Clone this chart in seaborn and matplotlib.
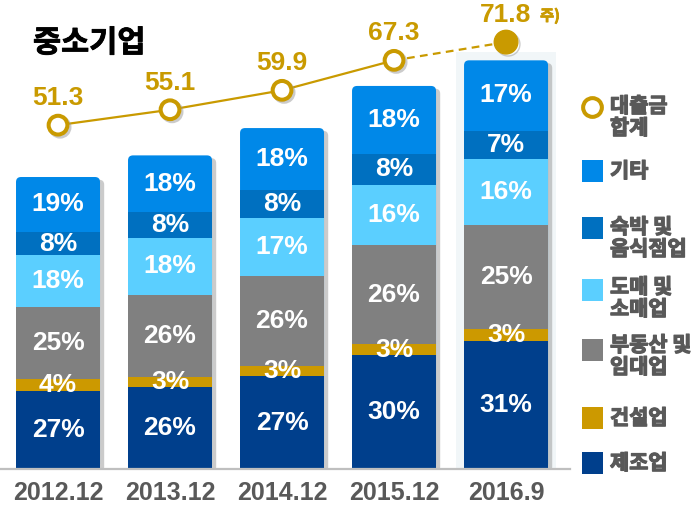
import numpy as np
import pandas as pd
import matplotlib
matplotlib.use("Agg")
import matplotlib.pyplot as plt
import matplotlib.patheffects as pe
from matplotlib.patches import FancyBboxPatch, Rectangle
import seaborn as sns

# ---- data -------------------------------------------------------------
periods = ["2012.12", "2013.12", "2014.12", "2015.12", "2016.9"]
loan_total = [51.3, 55.1, 59.9, 67.3, 71.8]          # 대출금 합계 (조원)
sectors = ["제조업", "건설업", "부동산 및\n임대업", "도매 및\n소매업", "숙박 및\n음식점업", "기타"]
manufacturing = [27, 26, 27, 30, 31]
construction = [4, 3, 3, 3, 3]
real_estate = [25, 26, 26, 26, 25]
wholesale_retail = [18, 18, 17, 16, 16]
lodging_food = [8, 8, 8, 8, 7]
other = [19, 18, 18, 18, 17]

colors = ["#003F8C", "#CC9900", "#808080", "#5BCFFF", "#0070C0", "#0088E8"]
line_color = "#C99A00"
text_gray = "#595959"

sns.set_style("white")
plt.rcParams["font.family"] = ["Liberation Sans", "Noto Sans CJK KR"]
KR = ["Noto Sans CJK KR", "Liberation Sans"]

# each bar is as tall as the loan total, split by sector share
shares = np.array([manufacturing, construction, real_estate,
                   wholesale_retail, lodging_food, other], float)
seg = shares / shares.sum(axis=0) * np.array(loan_total)
tops = seg.cumsum(axis=0)
bottoms = tops - seg

rows = []
for k, s in enumerate(sectors):
    for i, p in enumerate(periods):
        rows.append(dict(period=p, sector=s, share=int(shares[k, i]),
                         top=tops[k, i], bottom=bottoms[k, i], seg=seg[k, i]))
df = pd.DataFrame(rows)

# ---- figure -----------------------------------------------------------
W, H = 694, 508
fig = plt.figure(figsize=(W / 100, H / 100), dpi=100)
ax = fig.add_axes([0, 39 / H, 570 / W, 469 / H])

n = len(periods)
outer = None
for k in range(len(sectors) - 1, -1, -1):
    sub = df[df.sector == sectors[k]]
    before = len(ax.patches)
    sns.barplot(data=sub, x="period", y="top", order=periods, color=colors[k],
                saturation=1, width=0.75, ax=ax, zorder=2,
                linewidth=0, edgecolor="none")
    if outer is None:
        outer = list(ax.patches[before:])

ax.set_xlim(-0.518, 4.571)
ax.set_ylim(0, 82.4)

# rounded top corners + soft drop shadow on the full bars
ax_w_px = 570
ax_h_px = 469
px_x = ax_w_px / (4.571 + 0.518)
px_y = ax_h_px / 82.4
radius = 5 / px_x
for j, bar in enumerate(outer):
    x0, y0, w, h = bar.get_x(), bar.get_y(), bar.get_width(), bar.get_height()
    rounded = FancyBboxPatch(
        (x0, y0), w, h, boxstyle=f"round,pad=0,rounding_size={radius}",
        mutation_aspect=px_x / px_y, facecolor=bar.get_facecolor(),
        edgecolor="none", linewidth=0, zorder=1.9,
        path_effects=[pe.SimplePatchShadow(offset=(3, -2), shadow_rgbFace="#8c8c8c", alpha=0.45),
                      pe.Normal()])
    ax.add_patch(rounded)
    if j == n - 1:
        pad_x, pad_y = 8 / px_x, 8 / px_y
        ax.add_patch(Rectangle((x0 - pad_x, 0), w + 2 * pad_x, h + pad_y,
                               facecolor="#F1F6F8", edgecolor="none", zorder=0.5))
    bar.remove()

# percentage labels
for _, r in df.iterrows():
    i = periods.index(r.period)
    ax.text(i, r.bottom + r.seg / 2, f"{r.share}%", ha="center", va="center",
            color="white", fontsize=19, fontweight="bold", zorder=5)

for side in ["top", "left", "right"]:
    ax.spines[side].set_visible(False)
ax.spines["bottom"].set_color("#BFBFBF")
ax.spines["bottom"].set_linewidth(1.6)
ax.set_yticks([])
ax.set_xlabel("")
ax.set_ylabel("")
ax.set_xticks(range(n))
ax.set_xticklabels(periods, fontsize=18, fontweight="bold", color=text_gray)
ax.tick_params(axis="x", length=0, pad=9)

# ---- loan total line --------------------------------------------------
ax2 = ax.twinx()
ax2.set_ylim(-33.6, 82.2)
ax2.axis("off")
xs = np.arange(n)
sns.lineplot(x=xs[:4], y=loan_total[:4], ax=ax2, color=line_color, lw=1.6, zorder=3)
ax2.plot(xs[3:], loan_total[3:], color=line_color, lw=1.6, ls=(0, (3.5, 2.4)), zorder=3)
shadow = [pe.SimpleLineShadow(offset=(1.5, -1.5), shadow_color="#999999", alpha=0.5), pe.Normal()]
ax2.plot(xs[:4], loan_total[:4], ls="none", marker="o", ms=13.5, mfc="white",
         mec=line_color, mew=2.9, zorder=4, path_effects=shadow)
ax2.plot(xs[4:], loan_total[4:], ls="none", marker="o", ms=17, color=line_color,
         zorder=4, path_effects=shadow)
for i, v in enumerate(loan_total):
    ax2.annotate(f"{v}", (i, v), xytext=(0, 19.5), textcoords="offset points",
                 ha="center", va="center", color=line_color, fontsize=19,
                 fontweight="bold")
ax2.annotate("주)", (xs[-1], loan_total[-1]), xytext=(24.5, 19), textcoords="offset points",
             ha="left", va="center", color=line_color, fontsize=11,
             fontweight="heavy", family=KR,
             path_effects=[pe.withStroke(linewidth=0.6, foreground=line_color)])

# ---- overlay: title and legend (pixel coordinates) ---------------------
ovl = fig.add_axes([0, 0, 1, 1])
ovl.set_xlim(0, W)
ovl.set_ylim(H, 0)
ovl.axis("off")

ovl.text(33, 43, "중소기업", ha="left", va="center", fontsize=22,
         fontweight="heavy", color="black", family=KR,
         path_effects=[pe.withStroke(linewidth=0.6, foreground="black")])

legend_labels = ["대출금\n합계"] + sectors[::-1]
legend_colors = [None] + colors[::-1]
legend_y = [106, 171, 227, 287, 345, 418, 463]
marker_y = [107, 171, 228, 290, 350, 418, 463]
thick = [pe.withStroke(linewidth=0.9, foreground=text_gray)]
for lab, c, ty, my in zip(legend_labels, legend_colors, legend_y, marker_y):
    if c is None:
        ovl.plot(592, my, marker="o", ms=13.5, mfc="white", mec=line_color, mew=2.9)
    else:
        ovl.add_patch(Rectangle((582, my - 11), 21.5, 22, facecolor=c, edgecolor="none"))
    for li, line in enumerate(lab.split("\n")):
        ovl.text(610, ty + 22 * li, line, ha="left", va="center", fontsize=15,
                 fontweight="heavy", color=text_gray, family=KR, path_effects=thick)

fig.savefig("out.png", dpi=100)
